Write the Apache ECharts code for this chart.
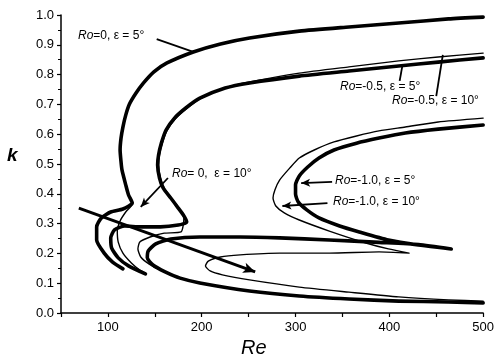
<!DOCTYPE html>
<html>
<head>
<meta charset="utf-8">
<script src="https://cdn.jsdelivr.net/npm/echarts@6/dist/echarts.min.js"></script>
<style>
  html, body { margin: 0; padding: 0; background: #fff; }
  #chart { width: 497px; height: 361px; }
</style>
</head>
<body>
<div id="chart"></div>
<script>
// Neutral stability curves, wave number k against Reynolds number Re.
// Each curve is a list of [Re, k] pairs.

// Ro = 0, eps = 5 deg (thick)
const ro0eps5 = [
  [500, 0.993], [463, 0.987], [410, 0.973], [357, 0.960], [304, 0.946],
  [251, 0.923], [220, 0.903], [191, 0.876], [163, 0.839], [149, 0.809],
  [138, 0.772], [130, 0.738], [123, 0.701], [119, 0.664], [116, 0.624],
  [114, 0.587], [113, 0.547], [114, 0.507], [115, 0.480], [119, 0.430],
  [122, 0.396], [126, 0.369], [116, 0.349], [103, 0.339], [93, 0.319],
  [88, 0.289], [88, 0.245], [96, 0.201], [105, 0.171], [116, 0.148]
];
// Ro = 0, eps = 10 deg (thin): upper branch runs under the eps = 5 curve
const ro0eps10Upper = [
  [500, 0.993], [463, 0.987], [410, 0.973], [357, 0.960], [304, 0.946],
  [251, 0.923], [220, 0.903], [191, 0.876], [163, 0.839], [149, 0.809],
  [138, 0.772], [130, 0.738], [123, 0.701], [119, 0.664], [116, 0.624],
  [114, 0.587], [113, 0.547], [114, 0.507], [115, 0.480], [119, 0.430],
  [122, 0.396]
];
const ro0eps10Lower = [
  [122, 0.396], [126, 0.366], [119, 0.339], [113, 0.309], [110, 0.275],
  [111, 0.238], [116, 0.201], [125, 0.168], [134, 0.144], [140, 0.134]
];

// Ro = -0.5, eps = 5 deg (thick)
const roM05eps5 = [
  [500, 0.856], [452, 0.842], [410, 0.829], [357, 0.812], [304, 0.795],
  [251, 0.772], [225, 0.755], [198, 0.721], [183, 0.688], [171, 0.654],
  [162, 0.614], [157, 0.570], [154, 0.530], [153, 0.497], [155, 0.453],
  [159, 0.419], [167, 0.386], [175, 0.352], [181, 0.326], [184, 0.305],
  [175, 0.295], [156, 0.289], [135, 0.289], [118, 0.292], [107, 0.279],
  [103, 0.252], [104, 0.218], [111, 0.185], [122, 0.158], [140, 0.131]
];
// Ro = -0.5, eps = 10 deg (thin)
const roM05eps10 = [
  [500, 0.872], [452, 0.859], [410, 0.846], [357, 0.826], [304, 0.805],
  [251, 0.775], [225, 0.755], [199, 0.720], [184, 0.686], [172, 0.652],
  [163, 0.612], [158, 0.570], [155, 0.530], [154, 0.497], [156, 0.453],
  [160, 0.419], [168, 0.384], [176, 0.350], [181, 0.318], [178, 0.272],
  [160, 0.268], [145, 0.255], [134, 0.238], [132, 0.215], [135, 0.188],
  [144, 0.164], [158, 0.141], [177, 0.117]
];

// Ro = -1.0, eps = 5 deg (thick)
const roM1eps5 = [
  [500, 0.631], [452, 0.617], [417, 0.604], [389, 0.587], [365, 0.570],
  [341, 0.547], [325, 0.520], [313, 0.490], [304, 0.460], [300, 0.430],
  [300, 0.399], [303, 0.372], [312, 0.346], [325, 0.319], [347, 0.292],
  [368, 0.272], [399, 0.245], [431, 0.228], [458, 0.218], [466, 0.215],
  [431, 0.230], [389, 0.237], [336, 0.245], [283, 0.252], [241, 0.255],
  [198, 0.255], [167, 0.248], [151, 0.232], [143, 0.208], [142, 0.185],
  [148, 0.161], [161, 0.138], [177, 0.117], [198, 0.101], [251, 0.074],
  [304, 0.057], [357, 0.047], [410, 0.040], [463, 0.037], [500, 0.034]
];
// Ro = -1.0, eps = 10 deg (thin)
const roM1eps10 = [
  [500, 0.654], [452, 0.641], [417, 0.624], [389, 0.611], [365, 0.594],
  [341, 0.574], [320, 0.547], [304, 0.520], [294, 0.487], [283, 0.446],
  [278, 0.413], [276, 0.386], [279, 0.359], [288, 0.336], [304, 0.312],
  [336, 0.275], [375, 0.235], [399, 0.215], [421, 0.201], [389, 0.205],
  [336, 0.201], [283, 0.201], [241, 0.195], [220, 0.188], [207, 0.174],
  [204, 0.158], [209, 0.141], [222, 0.128], [251, 0.111], [304, 0.087],
  [357, 0.070], [410, 0.054], [463, 0.044], [500, 0.040]
];

// Direction arrow across the left part of the curves
const trendArrow = [[69, 0.352], [257, 0.138]];

// Pointer lines from each label to its curve: [from, to, arrowhead]
const pointers = [
  [[152, 0.919], [191, 0.876], false],
  [[164, 0.453], [135, 0.356], true],
  [[411, 0.779], [414, 0.832], false],
  [[450, 0.728], [457, 0.866], false],
  [[339, 0.440], [306, 0.436], true],
  [[334, 0.369], [286, 0.359], true]
];

// Label texts with their anchor positions (left, middle) in pixels
const labelTexts = [
  ['{i|Ro}=0, ε = 5°', 78, 37],
  ['{i|Ro}= 0,  ε = 10°', 172, 175],
  ['{i|Ro}=-0.5, ε = 5°', 340, 88],
  ['{i|Ro}=-0.5, ε = 10°', 392, 102],
  ['{i|Ro}=-1.0, ε = 5°', 335, 182],
  ['{i|Ro}=-1.0, ε = 10°', 333, 203]
];

const xTickLabels = [100, 200, 300, 400, 500];

const THICK = 3.6;
const THIN = 1.4;
const INK = '#000';

function curve(name, data, width) {
  return {
    name: name,
    type: 'line',
    data: data,
    showSymbol: false,
    symbol: 'none',
    smooth: 0.2,
    animation: false,
    silent: true,
    lineStyle: { color: INK, width: width, join: 'round', cap: 'round' },
    z: width > 2 ? 3 : 2
  };
}

const chart = echarts.init(document.getElementById('chart'), null, { renderer: 'canvas' });

const series = [
  curve('Ro=0, eps=10 upper', ro0eps10Upper, THIN),
  curve('Ro=0, eps=10 lower', ro0eps10Lower, THIN),
  curve('Ro=-0.5, eps=10', roM05eps10, THIN),
  curve('Ro=-1.0, eps=10', roM1eps10, THIN),
  curve('Ro=0, eps=5', ro0eps5, THICK),
  curve('Ro=-0.5, eps=5', roM05eps5, THICK),
  curve('Ro=-1.0, eps=5', roM1eps5, THICK),
  {
    name: 'pointers',
    type: 'line',
    data: [],
    silent: true,
    animation: false,
    markLine: {
      silent: true,
      animation: false,
      label: { show: false },
      data: [
        [
          { coord: trendArrow[0], symbol: 'none', lineStyle: { width: 3, color: INK, type: 'solid' } },
          { coord: trendArrow[1], symbol: 'arrow', symbolSize: [8, 12] }
        ]
      ].concat(pointers.map(p => [
        { coord: p[0], symbol: 'none', lineStyle: { width: 1.8, color: INK, type: 'solid' } },
        { coord: p[1], symbol: p[2] ? 'arrow' : 'none', symbolSize: [6, 9] }
      ]))
    }
  }
];

const textStyleRich = {
  i: { fontStyle: 'italic', fontSize: 12, fontFamily: 'Liberation Sans', fill: INK }
};

const graphics = labelTexts.map(t => ({
  type: 'text',
  left: t[1],
  top: t[2] - 7,
  silent: true,
  style: {
    text: t[0],
    fontSize: 12,
    fontFamily: 'Liberation Sans',
    fill: INK,
    rich: textStyleRich
  }
}));

graphics.push({
  type: 'text', left: 7, top: 146, silent: true,
  style: { text: 'k', fontSize: 19, fontStyle: 'italic', fontWeight: 'bold', fontFamily: 'Liberation Sans', fill: INK }
});
graphics.push({
  type: 'text', left: 241, top: 338, silent: true,
  style: { text: 'Re', fontSize: 20, fontStyle: 'italic', fontFamily: 'Liberation Sans', fill: INK }
});

chart.setOption({
  backgroundColor: '#fff',
  animation: false,
  grid: { left: 61, right: 12, top: 15, bottom: 48, containLabel: false },
  xAxis: {
    type: 'value',
    min: 50,
    max: 500,
    interval: 50,
    axisLine: { show: true, onZero: false, lineStyle: { color: INK, width: 1.5 } },
    axisTick: { show: true, length: 4, lineStyle: { color: INK, width: 1.2 } },
    axisLabel: {
      color: INK, fontSize: 13, fontFamily: 'Liberation Sans', margin: 8,
      formatter: v => (xTickLabels.indexOf(v) >= 0 ? String(v) : '')
    },
    splitLine: { show: false }
  },
  yAxis: {
    type: 'value',
    min: 0,
    max: 1,
    interval: 0.1,
    axisLine: { show: true, onZero: false, lineStyle: { color: INK, width: 1.5 } },
    axisTick: { show: true, length: 4, lineStyle: { color: INK, width: 1.2 } },
    minorTick: { show: true, splitNumber: 2, length: 3, lineStyle: { color: INK, width: 1 } },
    axisLabel: {
      color: INK, fontSize: 13, fontFamily: 'Liberation Sans', margin: 7,
      formatter: v => v.toFixed(1)
    },
    splitLine: { show: false }
  },
  graphic: graphics,
  series: series
});
</script>
</body>
</html>
